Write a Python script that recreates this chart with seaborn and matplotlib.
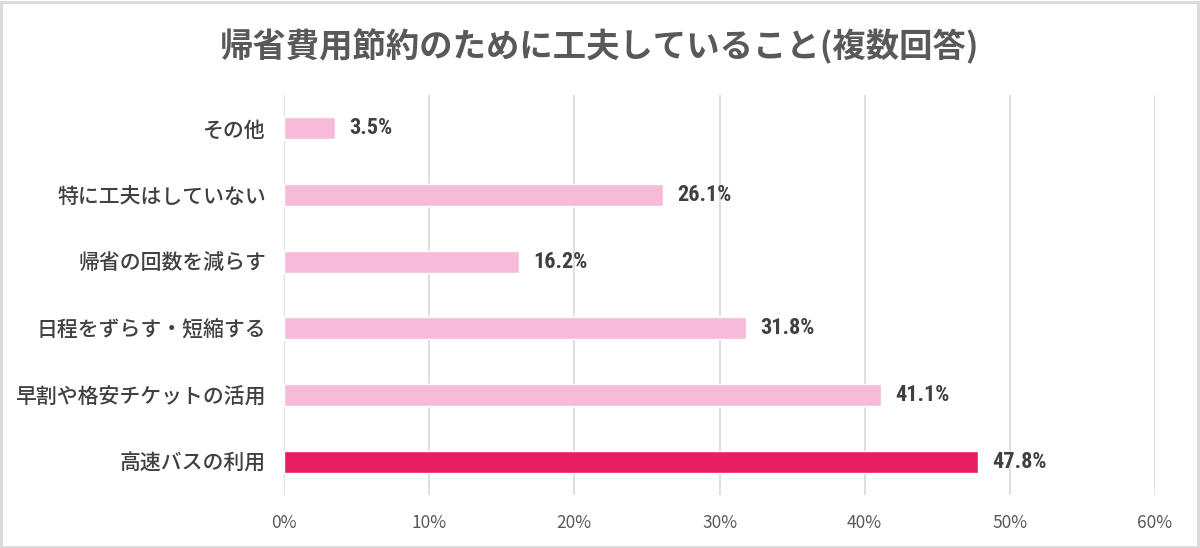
import numpy as np
import pandas as pd
import matplotlib.pyplot as plt
import seaborn as sns
from matplotlib.patches import Rectangle

# データ
categories = ['その他', '特に工夫はしていない', '帰省の回数を減らす',
              '日程をずらす・短縮する', '早割や格安チケットの活用', '高速バスの利用']
values = [3.5, 26.1, 16.2, 31.8, 41.1, 47.8]
bar_colors = ['#F7BAD9', '#F7BAD9', '#F7BAD9', '#F7BAD9', '#F7BAD9', '#E61E63']
x_ticks = [0, 10, 20, 30, 40, 50, 60]
title = '帰省費用節約のために工夫していること(複数回答)'

df = pd.DataFrame({'項目': categories, '割合': values})

sns.set_theme(style='white')
plt.rcParams['font.family'] = ['Noto Sans CJK JP', 'DejaVu Sans']

fig = plt.figure(figsize=(12, 5.48), dpi=100)
ax = fig.add_axes([0.2367, 0.0967, 0.7258, 0.73])

sns.barplot(data=df, x='割合', y='項目', hue='項目', palette=bar_colors,
            order=categories, legend=False, width=0.33, saturation=1,
            ax=ax, zorder=3)

ax.set_xlim(0, 60)
ax.set_ylim(5.5, -0.5)
ax.set_xticks(x_ticks)
ax.set_xticklabels([f'{t}%' for t in x_ticks], fontsize=12.5, color='#595959')
ax.tick_params(axis='x', length=0, pad=14)
ax.tick_params(axis='y', length=0, pad=13)
for lab in ax.get_yticklabels():
    lab.set_fontsize(15)
    lab.set_color('#404040')
    lab.set_fontweight('medium')
ax.grid(axis='x', color='#D9D9D9', linewidth=1.2, zorder=0)
ax.set_xlabel('')
ax.set_ylabel('')
for s in ax.spines.values():
    s.set_visible(False)

# 値ラベル
for i, v in enumerate(values):
    ax.text(v + 1.0, i, f'{v}%', va='center', ha='left', fontsize=16,
            fontweight='bold', color='#404040', family=['Roboto Condensed', 'Roboto', 'DejaVu Sans'])

fig.text(0.5, 0.916, title, ha='center', va='center', fontsize=24,
         fontweight='bold', color='#595959')

# 外枠
fig.add_artist(Rectangle((0.001, 0.002), 0.997, 0.995, transform=fig.transFigure,
                         fill=False, edgecolor='#D9D9D9', linewidth=2))

fig.savefig('out.png', dpi=100, facecolor='white')
